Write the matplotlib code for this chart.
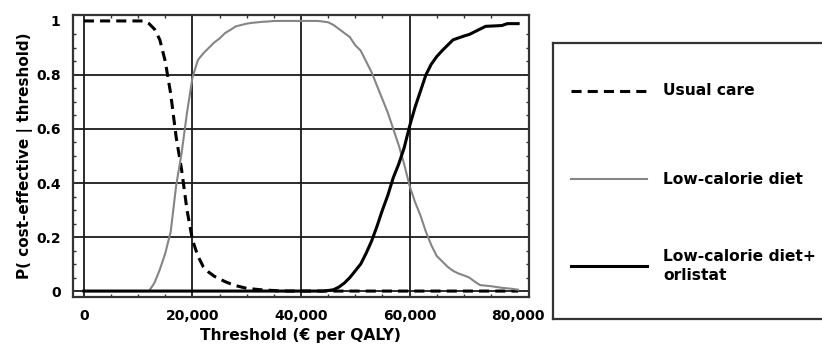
import numpy as np
import matplotlib
matplotlib.use("Agg")
import matplotlib.pyplot as plt
from matplotlib.ticker import MultipleLocator, FuncFormatter

plt.rcParams['font.family'] = ['DejaVu Sans']
plt.rcParams['font.weight'] = 'bold'

# threshold grid (euro per QALY), one value per 1000
threshold = list(range(0, 81000, 1000))

usual_care = [1.0] * 12 + [
    0.99, 0.97, 0.93, 0.85, 0.73, 0.57, 0.45, 0.30, 0.19, 0.13,   # 12k-21k
    0.09, 0.07, 0.055, 0.045, 0.035, 0.027, 0.02, 0.015, 0.01, 0.008,  # 22k-31k
    0.006, 0.004, 0.003, 0.002,                                      # 32k-35k
] + [0.0] * 45

low_cal = [0.0] * 13 + [
    0.03, 0.08, 0.14, 0.22, 0.39, 0.51, 0.66, 0.79, 0.855, 0.88,   # 13k-22k
    0.90, 0.92, 0.935, 0.955, 0.967, 0.98, 0.985, 0.99, 0.993, 0.995,  # 23k-32k
    0.997, 0.998, 1.0, 1.0, 1.0, 1.0, 1.0, 1.0, 1.0, 1.0, 1.0,        # 33k-43k
    0.998, 0.995, 0.985, 0.97, 0.955, 0.94, 0.91, 0.89, 0.85, 0.81,   # 44k-53k
    0.76, 0.71, 0.66, 0.60, 0.54, 0.47, 0.39, 0.33, 0.28, 0.22,       # 54k-63k
    0.17, 0.13, 0.11, 0.09, 0.075, 0.065, 0.058, 0.05, 0.035, 0.022,  # 64k-73k
    0.02, 0.018, 0.015, 0.012, 0.01, 0.008, 0.005,                    # 74k-80k
]

low_cal_orlistat = [0.0] * 45 + [
    0.002, 0.005, 0.015, 0.03, 0.05, 0.075, 0.10, 0.14, 0.185, 0.24,  # 45k-54k
    0.30, 0.355, 0.42, 0.47, 0.53, 0.61, 0.68, 0.74, 0.80, 0.84,      # 55k-64k
    0.868, 0.89, 0.91, 0.93, 0.937, 0.944, 0.95, 0.96, 0.97, 0.98,    # 65k-74k
    0.981, 0.982, 0.983, 0.99, 0.99, 0.99,                            # 75k-80k
]

series_labels = ['Usual care', 'Low-calorie diet', 'Low-calorie diet+\norlistat']
x_ticks = [0, 20000, 40000, 60000, 80000]
y_ticks = [0, 0.2, 0.4, 0.6, 0.8, 1.0]

fig = plt.figure(figsize=(8.22, 3.48), dpi=100)
ax = fig.add_axes([73 / 822, 1 - 297 / 348, 456 / 822, 282 / 348])

styles = [
    dict(color='black', lw=2.2, ls=(0, (3.3, 2.0))),
    dict(color='#858585', lw=1.5, ls='-'),
    dict(color='black', lw=2.2, ls='-'),
]
series = [usual_care, low_cal, low_cal_orlistat]

for vals, st in zip(series, styles):
    ax.plot(threshold, vals, zorder=3, **st)

ax.set_xlim(-2000, 82000)
ax.set_ylim(-0.022, 1.022)
ax.set_xticks(x_ticks)
ax.set_yticks(y_ticks)
ax.xaxis.set_major_formatter(FuncFormatter(lambda v, p: f'{int(v):,}'))
ax.yaxis.set_major_formatter(FuncFormatter(lambda v, p: f'{v:g}'))
ax.xaxis.set_minor_locator(MultipleLocator(5000))
ax.yaxis.set_minor_locator(MultipleLocator(0.05))
ax.tick_params(which='both', direction='in', top=True, right=True,
               labelsize=10, width=1.0, color='#333333')
ax.tick_params(which='major', length=0, pad=9)
ax.tick_params(which='minor', length=2.5)

ax.grid(True, which='major', color='#1a1a1a', lw=1.3, zorder=1)
ax.get_xgridlines()[-1].set_visible(False)
ax.get_ygridlines()[-1].set_visible(False)
for sp in ax.spines.values():
    sp.set_linewidth(1.6)
    sp.set_color('#333333')

ax.set_xlabel('Threshold (€ per QALY)', fontsize=11.2, fontweight='bold', labelpad=3)
ax.set_ylabel('P( cost-effective | threshold)', fontsize=11, fontweight='bold', labelpad=2)

# legend panel, drawn in pixel coordinates, running off the right edge
lax = fig.add_axes([553 / 822, 1 - 319 / 348, 290 / 822, 276 / 348])
lax.set_xlim(553, 843)
lax.set_ylim(319, 43)
lax.set_xticks([])
lax.set_yticks([])
for sp in lax.spines.values():
    sp.set_linewidth(1.6)
    sp.set_color('#333333')

row_y = [90.5, 179, 266]
for yy, lab, st in zip(row_y, series_labels, styles):
    lax.plot([571, 647], [yy, yy], **st)
    lax.text(663, yy, lab, fontsize=11.2, fontweight='bold',
             va='center', ha='left', linespacing=1.3)

fig.savefig('out.png', dpi=100)
